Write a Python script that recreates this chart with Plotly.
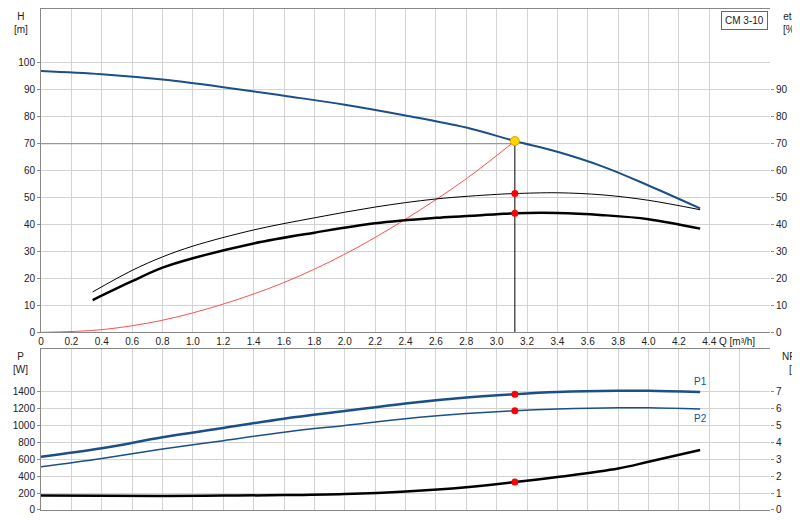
import plotly.graph_objects as go

q_h = [0, 0.4, 0.8, 1.2, 1.6, 2.0, 2.4, 2.8, 3.12, 3.4, 3.7, 4.0, 4.34]
h = [97, 95.8, 93.8, 91, 87.8, 84.5, 80.5, 76, 71, 67, 61.5, 54.5, 46]
q_eta = [0.34, 0.6, 0.8, 1.0, 1.4, 1.8, 2.2, 2.6, 3.0, 3.12, 3.4, 3.7, 4.0, 4.34]
eta = [12, 19, 24, 27.5, 33, 37, 40.5, 42.5, 43.8, 44.2, 44.3, 43.5, 42, 38.5]
eta_up = [15, 23, 28, 32, 38, 42.5, 46.5, 49.5, 51.2, 51.5, 51.8, 51, 49, 45.5]
q_sys = [0, 0.4, 0.8, 1.2, 1.6, 2.0, 2.4, 2.8, 3.12]
h_sys = [0, 1, 4.5, 10.5, 18.5, 29, 42, 57, 71]
q_p = [0, 0.4, 0.8, 1.2, 1.6, 2.0, 2.4, 2.8, 3.12, 3.4, 3.8, 4.0, 4.34]
p1 = [630, 730, 860, 970, 1080, 1170, 1260, 1330, 1370, 1395, 1410, 1410, 1395]
p2 = [510, 610, 720, 820, 920, 1000, 1080, 1140, 1175, 1195, 1210, 1208, 1195]
q_n = [0, 0.8, 1.2, 1.6, 2.0, 2.4, 2.8, 3.12, 3.4, 3.8, 4.0, 4.34]
npsh = [0.85, 0.83, 0.85, 0.88, 0.95, 1.1, 1.35, 1.65, 1.95, 2.45, 2.85, 3.55]
q_op, h_op, eta_op1, eta_op2, p1_op, p2_op, npsh_op = 3.12, 71, 51.5, 44.2, 1370, 1175, 1.65

blue = "#1a4f8a"
fig = go.Figure()
def tr(x, y, color, w, xa="x", ya="y"):
    fig.add_trace(go.Scatter(x=x, y=y, mode="lines", line=dict(color=color, width=w, shape="spline"),
                             xaxis=xa, yaxis=ya, showlegend=False, hoverinfo="skip"))

fig.add_trace(go.Scatter(x=[0, q_op], y=[70, 70], mode="lines", line=dict(color="#888", width=1), showlegend=False))
fig.add_trace(go.Scatter(x=[q_op, q_op], y=[0, h_op], mode="lines", line=dict(color="black", width=1), showlegend=False))
tr(q_sys, h_sys, "#ff5050", 1)
tr(q_h, h, blue, 2)
tr(q_eta, eta_up, "black", 1)
tr(q_eta, eta, "black", 2.5)
fig.add_trace(go.Scatter(x=[q_op, q_op], y=[eta_op1, eta_op2], mode="markers",
                         marker=dict(color="red", size=7), showlegend=False))
fig.add_trace(go.Scatter(x=[q_op], y=[h_op], mode="markers",
                         marker=dict(color="#ffd700", size=9, line=dict(color="#e0a000", width=1)), showlegend=False))
tr(q_p, p1, blue, 2.5, "x2", "y2")
tr(q_p, p2, blue, 1.5, "x2", "y2")
tr(q_n, npsh, "black", 2.5, "x2", "y3")
fig.add_trace(go.Scatter(x=[q_op, q_op], y=[p1_op, p2_op], mode="markers", xaxis="x2", yaxis="y2",
                         marker=dict(color="red", size=7), showlegend=False))
fig.add_trace(go.Scatter(x=[q_op], y=[npsh_op], mode="markers", xaxis="x2", yaxis="y3",
                         marker=dict(color="red", size=7), showlegend=False))
fig.add_trace(go.Scatter(x=[None], y=[None], yaxis="y4", showlegend=False))

grid = "#d3d3d3"
tf = dict(family="Arial", size=10, color="#222")
xt = [round(i * 0.2, 1) for i in range(23)]
xl = ["0"] + [f"{v:.1f}" for v in xt[1:]]
fig.update_layout(
    width=800, height=520, margin=dict(l=33, r=38, t=1, b=18),
    paper_bgcolor="white", plot_bgcolor="white", font=tf,
    xaxis=dict(range=[0, 4.8], domain=[0, 1], tickvals=xt, ticktext=xl, showgrid=True, gridcolor=grid,
               anchor="y", showline=True, linecolor="#888", mirror=True, ticks="", tickfont=tf),
    yaxis=dict(range=[0, 120], domain=[0.3546, 1], tickvals=list(range(0, 110, 10)),
               showgrid=True, gridcolor=grid, showline=True, linecolor="#888", ticks="outside",
               ticklen=3, tickcolor="#888", tickfont=tf, zeroline=False),
    yaxis4=dict(range=[0, 120], overlaying="y", side="right", tickvals=list(range(0, 100, 10)),
                showgrid=False, tickfont=tf, ticks="outside", ticklen=3, tickcolor="#888", zeroline=False),
    xaxis2=dict(range=[0, 4.8], domain=[0, 1], anchor="y2", dtick=0.2, showgrid=True, gridcolor=grid,
                showticklabels=False, showline=True, linecolor="#888", mirror=True, ticks=""),
    yaxis2=dict(range=[0, 1900], domain=[0, 0.3207], anchor="x2", tickvals=list(range(0, 1600, 200)),
                showgrid=True, gridcolor=grid, showline=True, linecolor="#888", ticks="outside",
                ticklen=3, tickcolor="#888", tickfont=tf, zeroline=False),
    yaxis3=dict(range=[0, 9.5], overlaying="y2", side="right", anchor="x2", tickvals=list(range(0, 8)),
                showgrid=False, tickfont=tf, ticks="outside", ticklen=3, tickcolor="#888", zeroline=False),
)
ann = [
    dict(x=-0.028, y=1.0, text="H<br>[m]"),
    dict(x=1.028, y=1.0, text="eta<br>[%]"),
    dict(x=-0.028, y=0.322, text="P<br>[W]"),
    dict(x=1.035, y=0.322, text="NPSH<br>[m]"),
    dict(x=0.955, y=0.352, text="Q [m³/h]"),
]
for a in ann:
    fig.add_annotation(xref="paper", yref="paper", showarrow=False, font=tf, align="center",
                       xanchor="center", yanchor="top", **a)
fig.add_annotation(xref="paper", yref="paper", x=0.997, y=0.997, text="CM 3-10", showarrow=False,
                   xanchor="right", yanchor="top", bordercolor="#666", borderwidth=1, bgcolor="white",
                   borderpad=3, font=tf)
fig.add_annotation(x=4.34, y=1520, xref="x2", yref="y2", text="P1", showarrow=False,
                   font=dict(family="Arial", size=10, color=blue))
fig.add_annotation(x=4.34, y=1080, xref="x2", yref="y2", text="P2", showarrow=False,
                   font=dict(family="Arial", size=10, color=blue))
fig.write_html("out.html")
